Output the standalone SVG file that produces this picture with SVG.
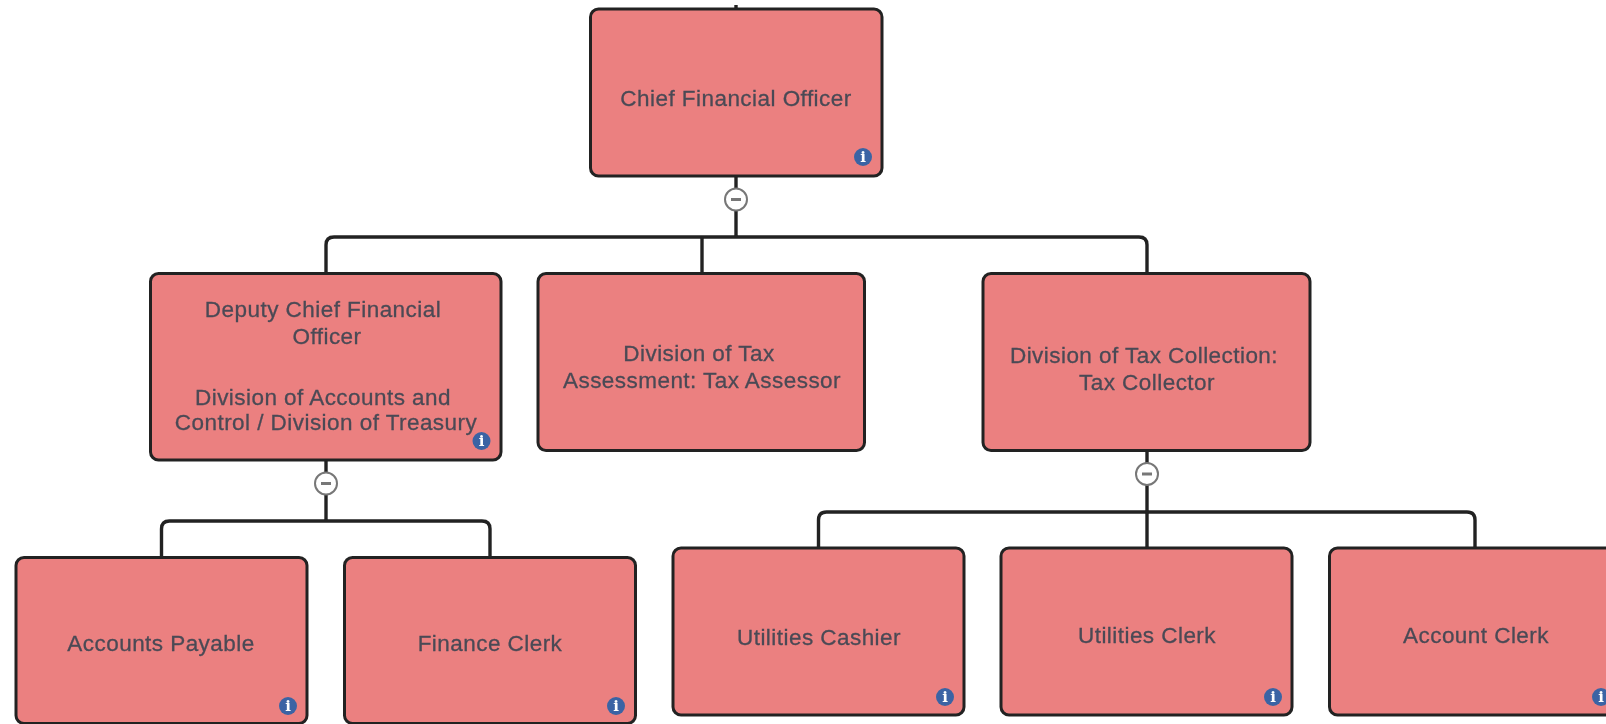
<svg xmlns="http://www.w3.org/2000/svg" width="1606" height="724" viewBox="0 0 1606 724">
<style>
.n{fill:#eb8080;stroke:#222;stroke-width:3}
.c{fill:none;stroke:#222;stroke-width:3.4}
text{font-family:"Liberation Sans",Arial,sans-serif;font-size:22.5px;letter-spacing:.45px;fill:#4b4a55;stroke:#4b4a55;stroke-width:.3;text-anchor:middle}
.tg{fill:#fff;stroke:#777;stroke-width:2}
.tm{stroke:#777;stroke-width:3}
.ib{fill:#3b64a4}
.it{font-family:"DejaVu Serif",serif;font-size:15px;font-weight:bold;fill:#fff;stroke:none;letter-spacing:0}
</style>
<defs>
<filter id="b" x="-2%" y="-2%" width="104%" height="104%"><feGaussianBlur stdDeviation="0.7"/></filter>
<g id="info"><circle class="ib" r="9"/><text class="it" y="5">i</text></g>
<g id="tog"><circle class="tg" r="11"/><line class="tm" x1="-5" x2="5"/></g>
</defs>
<rect width="1606" height="724" fill="#fff"/>
<g filter="url(#b)">
<g id="connectors">
<path class="c" d="M736 5V9"/>
<path class="c" d="M736 176V237"/>
<path class="c" d="M326 273V245Q326 237 334 237H1139Q1147 237 1147 245V273"/>
<path class="c" d="M702 237V273"/>
<path class="c" d="M326 460V521"/>
<path class="c" d="M161.500 557V529Q161.500 521 169.500 521H482Q490 521 490 529V557"/>
<path class="c" d="M1147 450V548"/>
<path class="c" d="M818.500 548V520Q818.500 512 826.500 512H1467Q1475 512 1475 520V548"/>
</g>
<g id="cfo"><rect class="n" x="590.500" y="9" width="291.500" height="167" rx="8"/><text x="736" y="106">Chief Financial Officer</text><use href="#info" x="863" y="157"/><use href="#tog" x="736" y="199.500"/></g>
<g id="deputy"><rect class="n" x="150.500" y="273.500" width="350.500" height="186.500" rx="8"/><text x="323" y="317">Deputy Chief Financial</text><text x="327" y="344">Officer</text><text x="323" y="405">Division of Accounts and</text><text x="326" y="430">Control / Division of Treasury</text><use href="#info" x="481.500" y="441"/><use href="#tog" x="326" y="483.500"/></g>
<g id="assessment"><rect class="n" x="538" y="273.500" width="326.500" height="177" rx="8"/><text x="699" y="361">Division of Tax</text><text x="702" y="388">Assessment: Tax Assessor</text></g>
<g id="collection"><rect class="n" x="983" y="273.500" width="327" height="177" rx="8"/><text x="1144" y="363">Division of Tax Collection:</text><text x="1147" y="390">Tax Collector</text><use href="#tog" x="1147" y="474"/></g>
<g id="payable"><rect class="n" x="16" y="557.500" width="291" height="166" rx="8"/><text x="161" y="651">Accounts Payable</text><use href="#info" x="288" y="706"/></g>
<g id="finance"><rect class="n" x="344.500" y="557.500" width="291" height="166" rx="8"/><text x="490" y="651">Finance Clerk</text><use href="#info" x="616" y="706"/></g>
<g id="cashier"><rect class="n" x="673" y="548" width="291" height="167" rx="8"/><text x="819" y="645">Utilities Cashier</text><use href="#info" x="945" y="697"/></g>
<g id="uclerk"><rect class="n" x="1001" y="548" width="291" height="167" rx="8"/><text x="1147" y="643">Utilities Clerk</text><use href="#info" x="1273" y="697"/></g>
<g id="aclerk"><rect class="n" x="1329.500" y="548" width="291" height="167" rx="8"/><text x="1476" y="643">Account Clerk</text><use href="#info" x="1601" y="697"/></g>
</g>
</svg>
